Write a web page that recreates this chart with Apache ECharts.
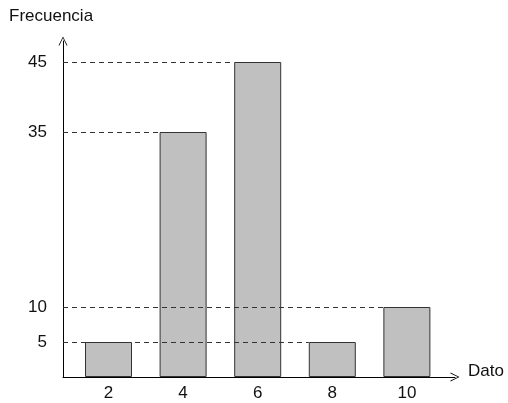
<!DOCTYPE html>
<html><head><meta charset="utf-8">
<script src="https://cdn.jsdelivr.net/npm/echarts@6/dist/echarts.min.js"></script>
<style>html,body{margin:0;padding:0;background:#fff}#c{width:508px;height:403px}</style>
</head><body><div id="c"></div>
<script>
const categories = [2, 4, 6, 8, 10];
const values = [5, 35, 45, 5, 10];
const yTickLabels = [5, 10, 35, 45];
// which bar each dashed guide line runs to
const guideTargets = [
  {value: 45, toCat: 6},
  {value: 35, toCat: 4},
  {value: 10, toCat: 10},
  {value: 5, toCat: 8}
];

const grid = {left: 63, top: 41, right: 53, bottom: 26};
const xMin = 0.78, xMax = 11.29, yMax = 48;
const barWidthPx = 47;
const plotW = 508 - grid.left - grid.right;
const halfW = (barWidthPx / 2) * (xMax - xMin) / plotW;

const arrow = 'path://M0,10 L5,0 L10,10 L9,10 L5,1.8 L1,10 Z';
const font = 'Liberation Sans, Arial, sans-serif';

const chart = echarts.init(document.getElementById('c'));
chart.setOption({
  animation: false,
  grid: grid,
  xAxis: {
    type: 'value', min: xMin, max: xMax,
    splitLine: {show: false},
    axisTick: {show: false},
    axisLine: {show: true, lineStyle: {color: '#000', width: 1},
      symbol: ['none', arrow], symbolSize: [9, 9]},
    axisLabel: {customValues: categories, color: '#111', fontSize: 17, fontFamily: font, margin: 8}
  },
  yAxis: {
    type: 'value', min: 0, max: yMax,
    splitLine: {show: false},
    axisTick: {show: false},
    axisLine: {show: true, lineStyle: {color: '#000', width: 1},
      symbol: ['none', arrow], symbolSize: [9, 9]},
    axisLabel: {customValues: yTickLabels, color: '#111', fontSize: 17, fontFamily: font, margin: 16,
      padding: [0, 0, 5, 0]}
  },
  graphic: [
    {type: 'text', left: 9, top: 8, style: {text: 'Frecuencia', fontSize: 17, fontFamily: font, fill: '#111'}},
    {type: 'text', left: 468, top: 363, style: {text: 'Dato', fontSize: 17, fontFamily: font, fill: '#111'}}
  ],
  series: [{
    type: 'bar',
    data: categories.map((c, i) => [c, values[i]]),
    barWidth: barWidthPx,
    itemStyle: {color: '#c0c0c0', borderColor: '#333', borderWidth: 1},
    z: 2,
    markLine: {
      symbol: ['none', 'none'],
      silent: true,
      z: 5,
      label: {show: false},
      lineStyle: {type: [5, 4], color: '#333', width: 1},
      data: guideTargets.map(g => [
        {coord: [xMin, g.value]},
        {coord: [g.toCat - halfW, g.value]}
      ])
    }
  }]
});
</script></body></html>
